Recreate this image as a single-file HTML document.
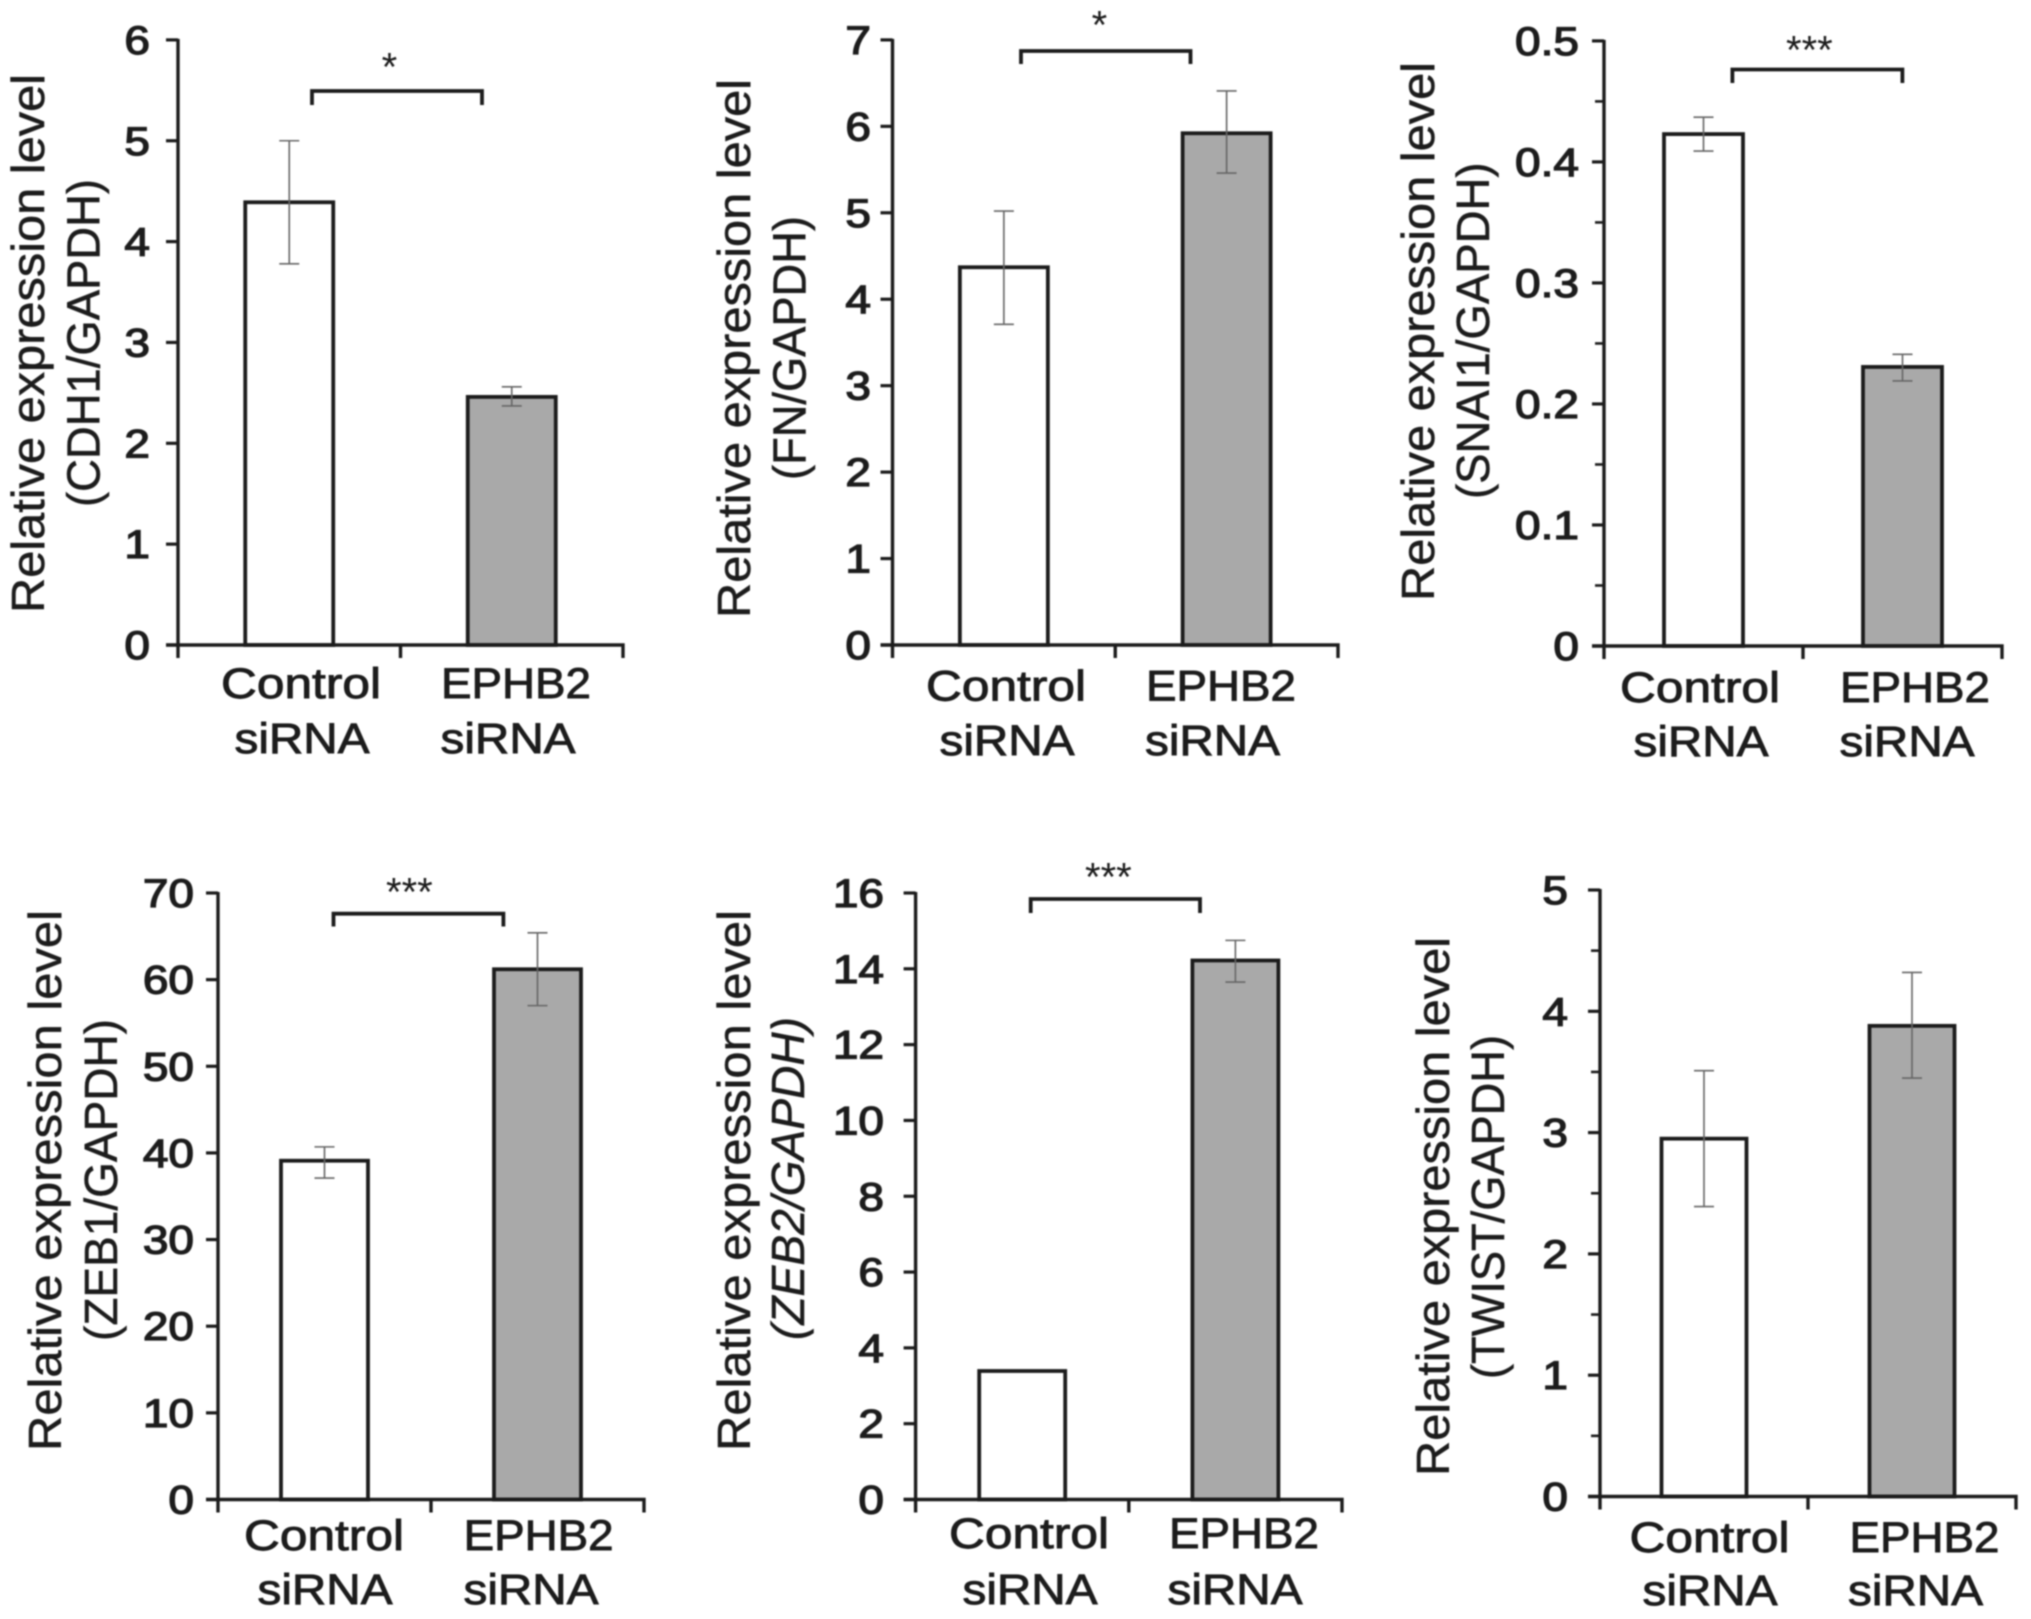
<!DOCTYPE html>
<html lang="en">
<head>
<meta charset="utf-8">
<title>EPHB2 siRNA relative expression charts</title>
<style>
html,body{margin:0;padding:0;background:#fff;width:2031px;height:1619px;overflow:hidden}
svg{display:block;filter:blur(.7px)}
text{font-family:"Liberation Sans",Arial,sans-serif;fill:#1c1c1c}
</style>
</head>
<body>
<svg id="figure" width="2031" height="1619" viewBox="0 0 2031 1619" xmlns="http://www.w3.org/2000/svg"></svg>
<script>
// ---- Data ----
const categoryLines = [['Control', 'siRNA'], ['EPHB2', 'siRNA']];

const cdh1Means = [4.39, 2.46];
const cdh1Upper = [5.0, 2.56];
const cdh1Lower = [3.78, 2.37];
const cdh1Ticks = ['0', '1', '2', '3', '4', '5', '6'];

const fnMeans = [4.37, 5.92];
const fnUpper = [5.02, 6.41];
const fnLower = [3.71, 5.46];
const fnTicks = ['0', '1', '2', '3', '4', '5', '6', '7'];

const snai1Means = [0.423, 0.2306];
const snai1Upper = [0.437, 0.241];
const snai1Lower = [0.409, 0.219];
const snai1Ticks = ['0', '0.1', '0.2', '0.3', '0.4', '0.5'];
const snai1Minor = [0.05, 0.15, 0.25, 0.35, 0.45];

const zeb1Means = [39.1, 61.2];
const zeb1Upper = [40.7, 65.4];
const zeb1Lower = [37.1, 57];
const zeb1Ticks = ['0', '10', '20', '30', '40', '50', '60', '70'];

const zeb2Means = [3.39, 14.22];
const zeb2Upper = [null, 14.75];
const zeb2Lower = [null, 13.65];
const zeb2Ticks = ['0', '2', '4', '6', '8', '10', '12', '14', '16'];

const twistMeans = [2.95, 3.88];
const twistUpper = [3.51, 4.32];
const twistLower = [2.39, 3.45];
const twistTicks = ['0', '1', '2', '3', '4', '5'];
const twistMinor = [0.5, 1.5, 2.5, 3.5, 4.5];

// ---- Layout of each panel (pixels) ----
const panels = [
  {id:'cdh1', means:cdh1Means, upper:cdh1Upper, lower:cdh1Lower, ticks:cdh1Ticks, minor:[],
   x0:178, x1:623, yTop:39.9, yBase:645, barW:88, labelRight:150,
   line1X:44, line1Y:[613,74], line2X:99.4, line2Y:[507,179], gene:'(CDH1/GAPDH)', italic:false,
   bracket:[312,482,91,105], star:'*', starX:389.4, starY:57.5,
   catX:[[301,302],[516,508]], catY:[698,753]},
  {id:'fn', means:fnMeans, upper:fnUpper, lower:fnLower, ticks:fnTicks, minor:[],
   x0:892.5, x1:1338, yTop:39.9, yBase:645, barW:88, labelRight:871,
   line1X:750, line1Y:[618,79], line2X:805.6, line2Y:[480,216], gene:'(FN/GAPDH)', italic:false,
   bracket:[1021,1190.5,51,64], star:'*', starX:1099.4, starY:15.5,
   catX:[[1006,1007],[1221,1212.5]], catY:[700.6,755]},
  {id:'snai1', means:snai1Means, upper:snai1Upper, lower:snai1Lower, ticks:snai1Ticks, minor:snai1Minor,
   x0:1604, x1:2002, yTop:40.9, yBase:646, barW:79, labelRight:1579,
   line1X:1434, line1Y:[601,62], line2X:1489, line2Y:[499,162.5], gene:'(SNAI1/GAPDH)', italic:false,
   bracket:[1732.4,1902.4,69.5,83], star:'***', starX:1809.4, starY:40.5,
   catX:[[1700,1701],[1915,1907]], catY:[702,756]},
  {id:'zeb1', means:zeb1Means, upper:zeb1Upper, lower:zeb1Lower, ticks:zeb1Ticks, minor:[],
   x0:218, x1:644, yTop:893, yBase:1499.5, barW:87, labelRight:194,
   line1X:61, line1Y:[1451,910], line2X:117, line2Y:[1341,1019], gene:'(ZEB1/GAPDH)', italic:false,
   bracket:[333.5,503.4,913.7,926.5], star:'***', starX:409.4, starY:882.5,
   catX:[[324,325],[538.6,531]], catY:[1550,1604]},
  {id:'zeb2', means:zeb2Means, upper:zeb2Upper, lower:zeb2Lower, ticks:zeb2Ticks, minor:[],
   x0:915.6, x1:1342, yTop:893, yBase:1499.5, barW:86, labelRight:884,
   line1X:750, line1Y:[1451,910], line2X:804, line2Y:[1340,1017], gene:'(ZEB2/GAPDH)', italic:true,
   bracket:[1030.7,1200,899,913], star:'***', starX:1108.4, starY:867.5,
   catX:[[1029,1030],[1244,1235]], catY:[1548,1604]},
  {id:'twist', means:twistMeans, upper:twistUpper, lower:twistLower, ticks:twistTicks, minor:twistMinor,
   x0:1600, x1:2016, yTop:890, yBase:1496.5, barW:85, labelRight:1568,
   line1X:1449, line1Y:[1476,937], line2X:1504, line2Y:[1379,1035], gene:'(TWIST/GAPDH)', italic:false,
   bracket:null, star:'', starX:0, starY:0,
   catX:[[1709.5,1710],[1924.5,1915.5]], catY:[1552,1605]}
];

const INK = '#1c1c1c';
const SVGNS = 'http://www.w3.org/2000/svg';
const figure = document.getElementById('figure');

function make(tag, attrs, parent) {
  const node = document.createElementNS(SVGNS, tag);
  for (const k in attrs) node.setAttribute(k, attrs[k]);
  parent.appendChild(node);
  return node;
}
function tickWidth(s, size) {
  let w = 0;
  for (const c of s) w += (c === '.' ? 0.278 : 0.556);
  return w * size * 1.15;
}

panels.forEach(function (p) {
  const group = make('g', {}, figure);
  
  

  const yMax = parseFloat(p.ticks[p.ticks.length - 1]);
  const yScale = function (v) { return p.yBase - (v / yMax) * (p.yBase - p.yTop); };
  const band = (p.x1 - p.x0) / 2;
  const xScale = function (i) { return p.x0 + band * (i + 0.5); };

  // bars
  p.means.forEach(function (v, i) {
    const top = yScale(v);
    const bar = make('rect', {
      x: xScale(i) - p.barW / 2, y: top, width: p.barW, height: p.yBase - top,
      fill: i === 0 ? '#fff' : '#a9a9a9', stroke: INK, 'stroke-width': 3.8
    }, group);
    
    
  });

  // error bars
  p.means.forEach(function (v, i) {
    if (p.upper[i] === null) return;
    const cx = xScale(i);
    const hi = yScale(p.upper[i]);
    const lo = yScale(p.lower[i]);
    const err = make('path', {
      d: 'M' + cx + ' ' + hi + 'V' + lo + 'M' + (cx - 10) + ' ' + hi + 'H' + (cx + 10) + 'M' + (cx - 10) + ' ' + lo + 'H' + (cx + 10),
      fill: 'none', stroke: '#666', 'stroke-width': 1.6
    }, group);
    
    
  });

  // axes
  const yAxis = make('line', {x1: p.x0, x2: p.x0, y1: p.yTop - 1, y2: p.yBase + 13, stroke: INK, 'stroke-width': 3.4}, group);
  
  

  const xAxisPath = 'M' + (p.x0 - 12) + ' ' + p.yBase + 'H' + p.x1 + 'V' + (p.yBase + 13) +
    'M' + (p.x0 + band) + ' ' + p.yBase + 'V' + (p.yBase + 13);
  const xAxis = make('path', {d: xAxisPath, fill: 'none', stroke: INK, 'stroke-width': 3.4}, group);
  
  

  // major ticks + labels
  p.ticks.forEach(function (label) {
    const y = yScale(parseFloat(label));
    const tick = make('line', {x1: p.x0 - 12, x2: p.x0, y1: y, y2: y, stroke: INK, 'stroke-width': 3.2}, group);
    
    

    const text = make('text', {
      x: p.labelRight, y: y + 14, 'text-anchor': 'end', 'font-size': 40,
      textLength: tickWidth(label, 40), lengthAdjust: 'spacingAndGlyphs',
      stroke: INK, 'stroke-width': 1.3
    }, group);
    text.textContent = label;
    
    
  });

  // minor ticks
  p.minor.forEach(function (v) {
    const y = yScale(v);
    const minor = make('line', {x1: p.x0 - 9, x2: p.x0, y1: y, y2: y, stroke: INK, 'stroke-width': 2.6}, group);
    
    
  });

  // y-axis title, two lines
  const t1 = make('text', {
    transform: 'translate(' + p.line1X + ' ' + p.line1Y[0] + ') rotate(-90)',
    'font-size': 46, textLength: p.line1Y[0] - p.line1Y[1], lengthAdjust: 'spacingAndGlyphs',
    stroke: INK, 'stroke-width': 0.5
  }, group);
  t1.textContent = 'Relative expression level';
  
  

  const t2 = make('text', {
    transform: 'translate(' + p.line2X + ' ' + p.line2Y[0] + ') rotate(-90)',
    'font-size': 46, textLength: p.line2Y[0] - p.line2Y[1], lengthAdjust: 'spacingAndGlyphs',
    'font-style': p.italic ? 'italic' : 'normal', stroke: INK, 'stroke-width': 0.5
  }, group);
  t2.textContent = p.gene;
  
  

  // category labels
  categoryLines.forEach(function (lines, i) {
    lines.forEach(function (line, j) {
      const cat = make('text', {
        x: p.catX[i][j], y: p.catY[j], 'text-anchor': 'middle', 'font-size': 43,
        textLength: line === 'Control' ? 160 : (line === 'EPHB2' ? 150 : 135),
        lengthAdjust: 'spacingAndGlyphs', stroke: INK, 'stroke-width': 0.9
      }, group);
      cat.textContent = line;
      
      
    });
  });

  // significance bracket
  if (p.bracket) {
    const b = p.bracket;
    const bracket = make('path', {
      d: 'M' + b[0] + ' ' + b[3] + 'V' + b[2] + 'H' + b[1] + 'V' + b[3],
      fill: 'none', stroke: INK, 'stroke-width': 3.8
    }, group);
    
    

    const star = make('text', {x: p.starX, y: p.starY + 23, 'text-anchor': 'middle', 'font-size': 40}, group);
    star.textContent = p.star;
    
    
  }
});
</script>
</body>
</html>
